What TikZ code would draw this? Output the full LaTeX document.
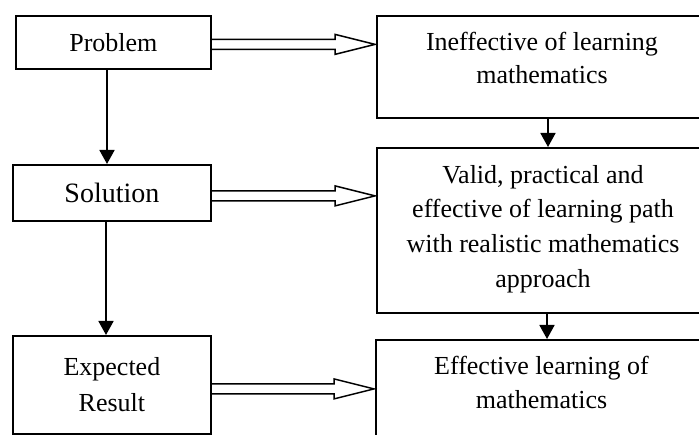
\documentclass[tikz,border=0pt]{standalone}
\usepackage{fontspec}
\setmainfont{Liberation Serif}
\usetikzlibrary{arrows.meta,calc}
\newcommand{\dblarr}[2]{%
  \draw[dblarrow] ($(#1)+(0,-5)$) -- ($(#2)+(-40,-5)$) -- ($(#2)+(-40,-10)$) -- (#2)
    -- ($(#2)+(-40,10)$) -- ($(#2)+(-40,5)$) -- ($(#1)+(0,5)$);}
\begin{document}
\begin{tikzpicture}[x=1pt,y=-1pt,
  box/.style={draw, line width=1.8pt, inner sep=0pt, anchor=north west, align=center,
    font=\fontsize{26}{36}\selectfont},
  txt/.style={inner sep=0pt, anchor=north, align=center},
  varrow/.style={line width=1.8pt, -{Triangle[width=15pt,length=14pt]}},
  dblarrow/.style={line width=1.5pt, line join=miter}
]
\useasboundingbox (0,0) rectangle (699,435);
\clip (0,0) rectangle (699,435);

% left column
\node[box, minimum width=195, minimum height=53] (problem) at (15,15) {Problem};
\node[box, minimum width=198, minimum height=56, font=\fontsize{28}{34}\selectfont] (solution) at (12,164) {Solution};
\node[box, minimum width=198, minimum height=98] (expected) at (12,335) {Expected\\Result};

% right column
\node[box, minimum width=332, minimum height=102] (ineff) at (376,15) {};
\node[box, minimum width=332, minimum height=165] (valid) at (376,147) {};
\node[box, minimum width=333, minimum height=125] (effective) at (375,339) {};

\node[txt, font=\fontsize{26}{33}\selectfont] (tineff) at (542,32) {Ineffective of learning\\mathematics};
\node[txt, font=\fontsize{26}{34.7}\selectfont] (tvalid) at (543,165) {Valid, practical and\\effective of learning path\\with realistic mathematics\\approach};
\node[txt, font=\fontsize{26}{34}\selectfont] (teff) at (541.5,356) {Effective learning of\\mathematics};

% vertical arrows
\coordinate (xa) at (107,0);
\coordinate (xb) at (106,0);
\coordinate (xc) at (548,0);
\coordinate (xd) at (547,0);
\draw[varrow] (problem.south -| xa) -- (solution.north -| xa);
\draw[varrow] (solution.south -| xb) -- (expected.north -| xb);
\draw[varrow] (ineff.south -| xc) -- (valid.north -| xc);
\draw[varrow] (valid.south -| xd) -- (effective.north -| xd);

% double (hollow) arrows
\coordinate (ps) at ([yshift=-2pt]problem.east);
\coordinate (pe) at ([xshift=-1pt]ps -| ineff.west);
\coordinate (ss) at ([yshift=-3pt]solution.east);
\coordinate (se) at ([xshift=-1pt]ss -| valid.west);
\coordinate (es) at ([yshift=-4pt]expected.east);
\coordinate (ee) at ([xshift=-1pt]es -| effective.west);
\dblarr{ps}{pe}
\dblarr{ss}{se}
\dblarr{es}{ee}
\end{tikzpicture}
\end{document}
